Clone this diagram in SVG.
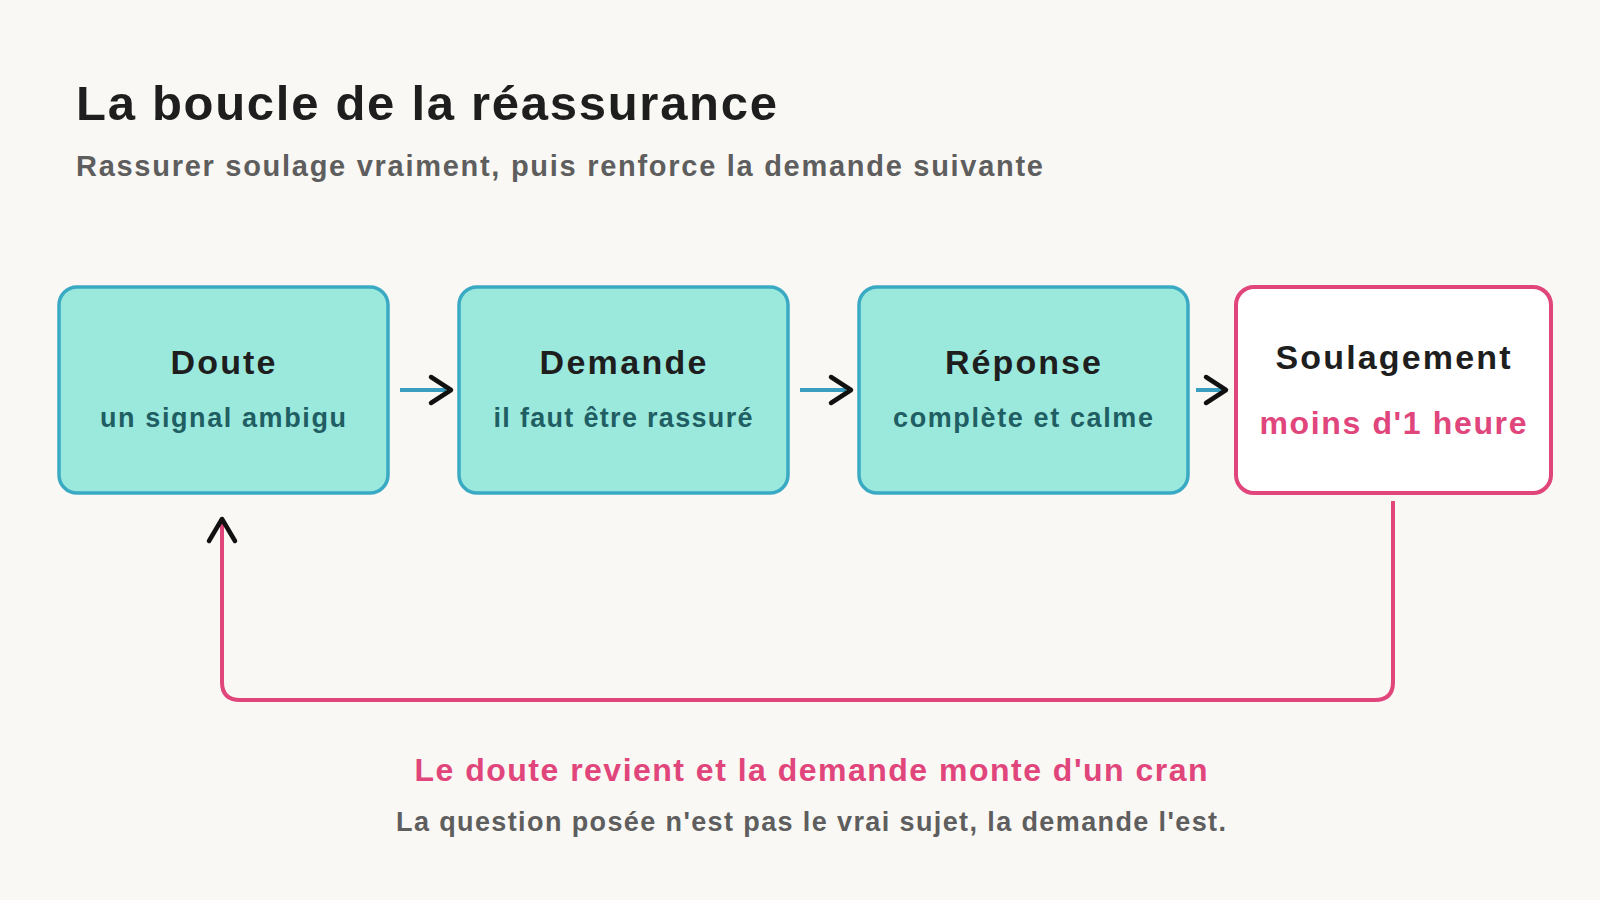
<svg xmlns="http://www.w3.org/2000/svg" width="1600" height="900" viewBox="0 0 1600 900">
<style>
text{font-family:"Liberation Sans",Arial,sans-serif;font-weight:bold}
.box{fill:#9be9dd;stroke:#3aaac4;stroke-width:3.5}
.t{font-size:34px;fill:#1e1e1e;text-anchor:middle}
.s{font-size:27px;fill:#1f5e62;text-anchor:middle}
.ln{stroke:#3a9ec0;stroke-width:4;fill:none}
.hd{stroke:#111;stroke-width:4.5;fill:none;stroke-linecap:round;stroke-linejoin:round}
</style>
<rect width="1600" height="900" fill="#faf8f4"/>
<text x="76" y="120" font-size="49" fill="#1e1e1e" textLength="701">La boucle de la réassurance</text>
<text x="76" y="176" font-size="29" fill="#5e5e5e" textLength="967">Rassurer soulage vraiment, puis renforce la demande suivante</text>
<g id="n1"><rect class="box" x="59" y="287" width="329" height="206" rx="18"/><text class="t" x="223" y="374" textLength="105">Doute</text><text class="s" x="223" y="427" textLength="246">un signal ambigu</text></g>
<g id="n2"><rect class="box" x="459" y="287" width="329" height="206" rx="18"/><text class="t" x="623" y="374" textLength="167">Demande</text><text class="s" x="623" y="427" textLength="259">il faut être rassuré</text></g>
<g id="n3"><rect class="box" x="859" y="287" width="329" height="206" rx="18"/><text class="t" x="1023" y="374" textLength="156">Réponse</text><text class="s" x="1023" y="427" textLength="260">complète et calme</text></g>
<g id="n4"><rect x="1236" y="287" width="315" height="206" rx="18" fill="#fff" stroke="#e0457b" stroke-width="4"/><text class="t" x="1393" y="369" textLength="235">Soulagement</text><text x="1393" y="434" font-size="32" fill="#e0457b" text-anchor="middle" textLength="267">moins d'1 heure</text></g>
<g id="connectors">
<path class="ln" d="M400 390H446"/><path class="hd" d="M431 377L451 390L431 403"/>
<path class="ln" d="M800 390H846"/><path class="hd" d="M831 377L851 390L831 403"/>
<path class="ln" d="M1196 390H1222"/><path class="hd" d="M1206 377L1226 390L1206 403"/>
<path d="M1393 501V682Q1393 700 1375 700H240Q222 700 222 682V520" fill="none" stroke="#e0457b" stroke-width="4"/>
<path class="hd" d="M209 541L222 519L235 541"/>
</g>
<text x="811" y="781" font-size="32" fill="#e0457b" text-anchor="middle" textLength="793">Le doute revient et la demande monte d'un cran</text>
<text x="811" y="831" font-size="27" fill="#5e5e5e" text-anchor="middle" textLength="830">La question posée n'est pas le vrai sujet, la demande l'est.</text>
</svg>
